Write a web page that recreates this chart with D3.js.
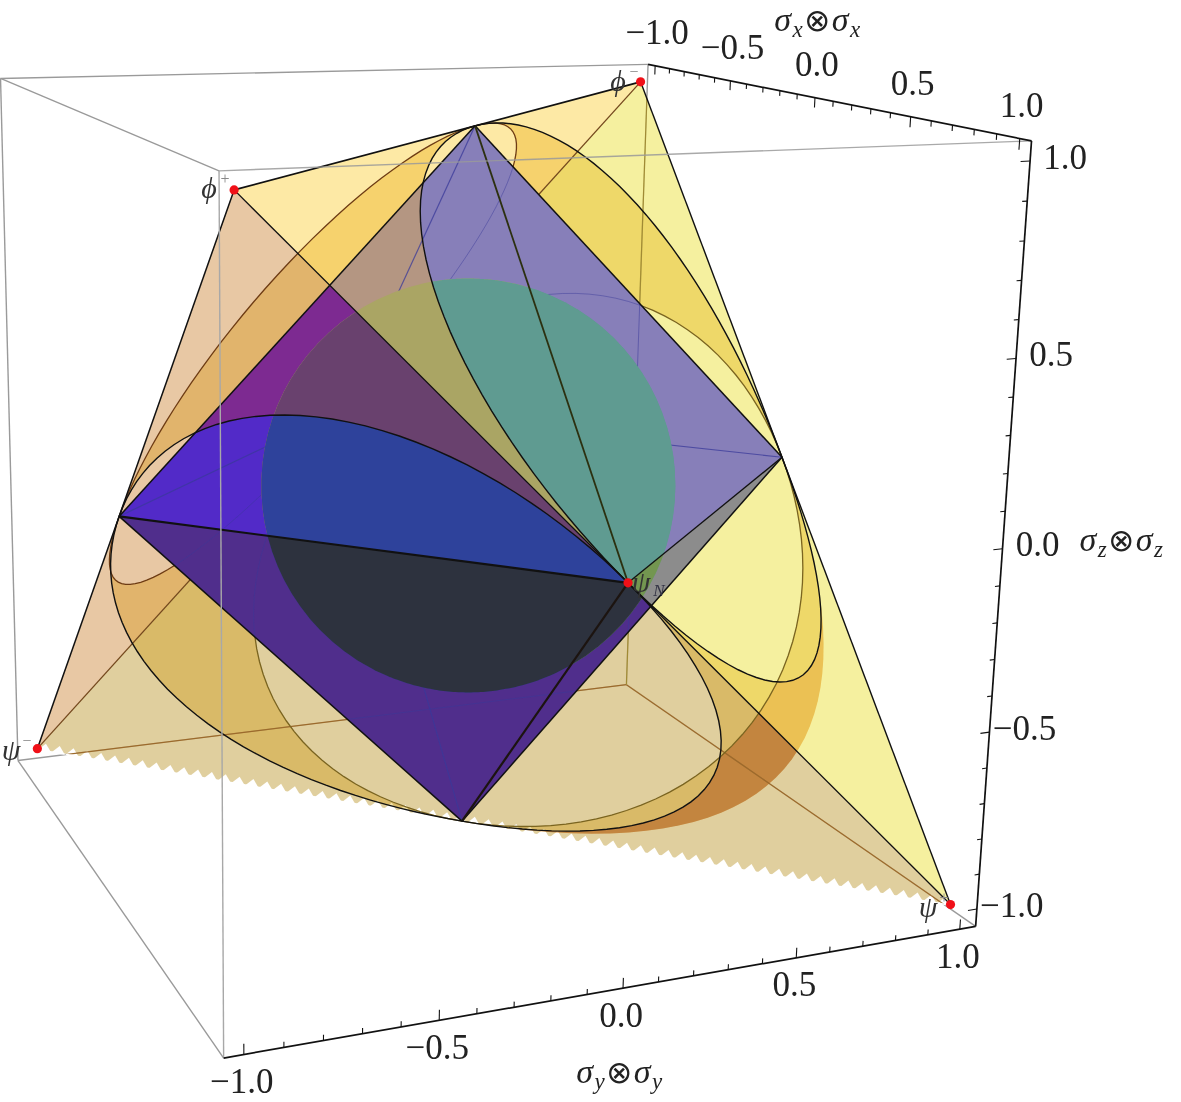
<!DOCTYPE html>
<html><head><meta charset="utf-8">
<style>html,body{margin:0;padding:0;background:#fff}svg{display:block}text{font-family:"Liberation Serif",serif;fill:#222}</style>
<script src="https://cdn.jsdelivr.net/npm/d3@7"></script></head><body><div id="c"></div>
<script>
// ---------- data (state-space coordinates: <xx>, <yy>, <zz>) ----------
const states = {
  phiP:[1,-1,1], phiM:[-1,1,1], psiP:[1,1,-1], psiM:[-1,-1,-1],
  Xp:[1,0,0], Xm:[-1,0,0], Yp:[0,1,0], Ym:[0,-1,0], Zp:[0,0,1], Zm:[0,0,-1]
};
const tetraBack = [["psiM","phiM","psiP"],["phiP","phiM","psiM"]];
const tetraFront = [["phiP","phiM","psiP"],["phiP","psiP","psiM"]];
const markedStates = ["phiP","phiM","psiP","psiM","Xp"];
const sphereRadius = 0.575;
const axisTickLabels = ["-1.0","-0.5","0.0","0.5","1.0"];
const axisTickValues = [-1,-0.5,0,0.5,1];
const boxHalf = 1.05;
const frontWeight = 0.67, backWeight = 0.62, bandWeight = 1.05;
// camera calibration: state -> picture position
const k = boxHalf;
const calibration = [
 [[-k,-k,k],[2,79]],[[-k,k,k],[648,66]],[[k,k,k],[1031,142]],[[k,-k,k],[220,171]],
 [[-k,-k,-k],[19,760]],[[-k,k,-k],[626,683]],[[k,k,-k],[974,925]],[[k,-k,-k],[225,1056]],
 [states.phiP,[231.5,188]],[states.phiM,[640.5,80]],[states.psiP,[952,907]],[states.psiM,[35.5,750.5]],
 [states.Xp,[629,584]],[states.Yp,[783,457]],[states.Ym,[118,517]],[states.Zp,[475,125]],[states.Zm,[462,822]]
];
// ---------- camera fit ----------
function fit(c){
  const n=11,A=d3.range(n).map(()=>new Array(n+1).fill(0));
  const add=(r,b)=>{for(let i=0;i<n;i++){for(let j=0;j<n;j++)A[i][j]+=r[i]*r[j];A[i][n]+=r[i]*b;}};
  c.forEach(([[x,y,z],[u,v]])=>{
    add([x,y,z,1,0,0,0,0,-u*x,-u*y,-u*z],u);
    add([0,0,0,0,x,y,z,1,-v*x,-v*y,-v*z],v);
  });
  for(let i=0;i<n;i++){
    let p=i;for(let r=i+1;r<n;r++)if(Math.abs(A[r][i])>Math.abs(A[p][i]))p=r;
    [A[i],A[p]]=[A[p],A[i]];
    for(let r=0;r<n;r++){if(r===i)continue;const f=A[r][i]/A[i][i];for(let j=i;j<=n;j++)A[r][j]-=f*A[i][j];}
  }
  return d3.range(n).map(i=>A[i][n]/A[i][i]);
}
const P=fit(calibration);
const proj=([x,y,z])=>{const w=P[8]*x+P[9]*y+P[10]*z+1;
  return [(P[0]*x+P[1]*y+P[2]*z+P[3])/w,(P[4]*x+P[5]*y+P[6]*z+P[7])/w];};
const S=n=>states[n];
const mid=(a,b)=>a.map((v,i)=>(v+b[i])/2);
// rational quadratic arc A->B with tangent corner C
function arc3(A,C,B,w){
  return d3.range(0,1.0001,1/40).map(t=>{
    const a=(1-t)*(1-t),b=2*t*(1-t)*w,c=t*t,d=a+b+c;
    return A.map((_,i)=>(a*A[i]+b*C[i]+c*B[i])/d);
  });
}
function discPts(f,W){
  const [a,b,c]=f.map(S);
  const ab=mid(a,b),bc=mid(b,c),ca=mid(c,a);
  return [arc3(ab,b,bc,W[0]),arc3(bc,c,ca,W[1]),arc3(ca,a,ab,W[2])];
}
const line=d3.line().x(d=>d[0]).y(d=>d[1]);
const poly=names=>line(names.map(S).map(proj))+"Z";
const curve=pts=>line(pts.map(proj));
const discPath=(f,w)=>line(discPts(f,w).flat().map(proj))+"Z";

const F1=["phiP","phiM","psiP"],F2=["phiP","psiP","psiM"],F3=["phiP","phiM","psiM"],F4=["phiM","psiP","psiM"];
const FW=[frontWeight,frontWeight,frontWeight],BW=[backWeight,backWeight,backWeight];
const svg=d3.select("#c").append("svg").attr("width",1181).attr("height",1102).style("isolation","isolate");
const defs=svg.append("defs");
const clip=(id,d)=>defs.append("clipPath").attr("id",id).append("path").attr("d",d);
clip("cSquare",poly(["Ym","Zp","Yp","Zm"]));
clip("cTetra",poly(["phiP","phiM","psiP","psiM"]));
clip("cF2",poly(F2));
const spherePts=[];
d3.range(0,180,4).forEach(a=>d3.range(0,360,2).forEach(b=>{
  const t=a*Math.PI/180,u=b*Math.PI/180;
  spherePts.push(proj([sphereRadius*Math.sin(t)*Math.cos(u),sphereRadius*Math.sin(t)*Math.sin(u),sphereRadius*Math.cos(t)]));
}));
const sphereOutline=line(d3.polygonHull(spherePts))+"Z";
clip("cSphere",sphereOutline);
// band mask
const mask=defs.append("mask").attr("id","mBand").attr("maskUnits","userSpaceOnUse").attr("x",0).attr("y",0).attr("width",1181).attr("height",1102);
mask.append("rect").attr("width",1181).attr("height",1102).attr("fill","#fff");
[[F1,FW],[F2,FW],[F4,BW]].forEach(([f,w])=>mask.append("path").attr("d",discPath(f,w)).attr("fill","#000"));

// 1 box back edges
const gray="#9a9a9a";
const seg=(g,a,b,st,w,op)=>g.append("path").attr("d",line([proj(a),proj(b)])).attr("stroke",st).attr("stroke-width",w).attr("fill","none").attr("opacity",op==null?1:op);
const c=(sx,sy,sz)=>[sx*k,sy*k,sz*k];
const backEdges=[[c(-1,-1,1),c(-1,1,1)],[c(-1,-1,1),c(1,-1,1)],[c(-1,-1,1),c(-1,-1,-1)],[c(-1,-1,-1),c(1,-1,-1)],[c(-1,1,1),c(-1,1,-1)],[c(-1,-1,-1),c(-1,1,-1)],[c(-1,1,-1),c(1,1,-1)]];
backEdges.forEach(e=>seg(svg,e[0],e[1],gray,1.4));

// 2 tetra faces
const faceColors=["rgb(215,215,145)","rgb(247,187,169)","rgb(255,245,120)","rgb(213,179,118)"];
tetraBack.concat(tetraFront).forEach((f,i)=>svg.append("path").attr("d",poly(f)).attr("fill",faceColors[i]).attr("fill-opacity",0.5));

// 3 saw-tooth fringe of the lower edge
const pm=proj(S("psiM")),pp=proj(S("psiP"));
const nTeeth=66;
d3.range(nTeeth).forEach(i=>{
  const at=t=>[pm[0]+(pp[0]-pm[0])*t,pm[1]+(pp[1]-pm[1])*t];
  const a=at(i/nTeeth),b=at((i+1)/nTeeth),m=at((i+.62)/nTeeth);
  svg.append("path").attr("d",line([[a[0],a[1]+1.5],[b[0],b[1]+1.5],[m[0],m[1]-6.5]])+"Z").attr("fill","#fff");
});

// 4 tints
svg.append("path").attr("d",[[F1,FW],[F2,FW],[F3,BW],[F4,BW]].map(([f,w])=>discPath(f,w)).join(" ")).attr("fill","rgb(248,230,168)").attr("fill-rule","evenodd").style("mix-blend-mode","multiply");
const bandG=svg.append("g").attr("mask","url(#mBand)").style("mix-blend-mode","multiply");
bandG.append("path").attr("d",discPath(F4,[bandWeight,backWeight,backWeight])).attr("fill","rgb(245,205,135)");
const bandLow=svg.append("g").attr("mask","url(#mBand)").attr("clip-path","url(#cF2)").style("mix-blend-mode","multiply");
bandLow.append("path").attr("d",discPath(F4,[bandWeight,backWeight,backWeight])).attr("fill","rgb(232,205,190)");

// 5 brown hidden lines
const gT=svg.append("g").attr("clip-path","url(#cTetra)");
[[c(-1,-1,-1),c(-1,1,-1),"#9c6a2c"],[c(-1,1,-1),c(1,1,-1),"#9c6a2c"],[c(-1,1,1),c(-1,1,-1),"#a08a34"]].forEach(e=>seg(gT,e[0],e[1],e[2],1.2));
seg(svg,S("phiM"),S("psiM"),"#74491e",1.3);
[[F3,"#6e3c14"],[F4,"#7a6420"]].forEach(([f,col])=>discPts(f,BW).forEach(a=>svg.append("path").attr("d",curve(a)).attr("fill","none").attr("stroke",col).attr("stroke-width",1.3)));

// 6 octahedron regions
const octaColors={a:"rgb(135,127,185)",b:"rgb(180,150,130)",c:"rgb(125,42,145)",d:"rgb(82,42,200)",e:"rgb(80,46,140)",f:"rgb(140,140,140)"};
const sphereColors={a:"rgb(95,155,145)",b:"rgb(170,165,100)",c:"rgb(105,65,110)",d:"rgb(46,66,155)",e:"rgb(45,50,62)",f:"rgb(115,150,80)"};
function paintOcta(g,col){
  const p=(d,fc)=>g.append("path").attr("d",d).attr("fill",fc);
  p(poly(["Xp","Ym","Zp"]),col.b);
  p(poly(["phiP","Ym","Xp"]),col.c);
  p(discPath(F2,FW),col.d);
  p(discPath(F1,FW),col.a);
  p(poly(["Xp","Zp","Yp"]),col.a);
  p(poly(["Xp","Yp","Zm"]),col.f);
  p(poly(["Xp","psiP","Zm"]),col.e);
  p(poly(["Xp","Ym","Zm"]),col.e);
}
const gSq=svg.append("g").attr("clip-path","url(#cSquare)");
paintOcta(gSq,octaColors);

// 7 faint lines seen through the octahedron
const faint="#3a3a9a";
["Ym","Zp","Yp","Zm"].forEach(n=>seg(gSq,S("Xm"),S(n),faint,1.2,.75));
[F3,F4].forEach(f=>discPts(f,BW).forEach(a=>gSq.append("path").attr("d",curve(a)).attr("fill","none").attr("stroke",faint).attr("stroke-width",1).attr("opacity",.45)));
[[c(-1,-1,-1),c(-1,1,-1)],[c(-1,1,-1),c(1,1,-1)],[c(-1,1,1),c(-1,1,-1)]].forEach(e=>seg(gSq,e[0],e[1],faint,1,.5));

// 8 sphere
const gSp=gSq.append("g").attr("clip-path","url(#cSphere)");
paintOcta(gSp,sphereColors);

// 9 front lines
const black="#111";
[["phiP","phiM",1.8,black],["phiM","psiP",1.4,black],["phiP","psiM",1.5,black],["phiP","psiP",1.3,black],
 ["Ym","Zp",1.5,black],["Zp","Yp",1.5,black],["Yp","Zm",1.5,black],["Zm","Ym",1.5,black],
 ["Ym","Xp",2.2,black],["Zp","Xp",1.8,"#2c3010"],["Yp","Xp",1.3,black],["Zm","Xp",2.2,"#1c1410"]].forEach(([a,b,w,col])=>seg(svg,S(a),S(b),col,w));
[F1,F2].forEach(f=>discPts(f,FW).forEach(a=>svg.append("path").attr("d",curve(a)).attr("fill","none").attr("stroke",black).attr("stroke-width",1.4)));

// front box edges
seg(svg,c(1,-1,1),c(1,1,1),gray,1.4,.85);
seg(svg,c(1,-1,1),c(1,-1,-1),"#a8a8a8",1.4);
// axes
const axes=[
 {a:c(-1,1,1),b:c(1,1,1),at:v=>[v,k,k],dir:[0,0,-1],off:[2,-33]},
 {a:c(1,1,1),b:c(1,1,-1),at:v=>[k,k,v],dir:[0,-1,0],off:[35,-4]},
 {a:c(1,-1,-1),b:c(1,1,-1),at:v=>[k,v,-k],dir:[0,0,1],off:[-2,27]}
];
const tickScale=d3.scaleLinear().domain([-1,1]);
const fmt=l=>l.replace("-","\u2212");
axes.forEach(ax=>{
  seg(svg,ax.a,ax.b,black,1.7);
  tickScale.ticks(20).forEach(v=>{
    const major=axisTickValues.some(m=>Math.abs(m-v)<1e-6);
    const base=ax.at(v),len=major?0.028:0.015;
    seg(svg,base,base.map((q,i)=>q+ax.dir[i]*len),black,1.1);
  });
  axisTickValues.forEach((v,i)=>{
    const p=proj(ax.at(v));
    svg.append("text").attr("x",p[0]+ax.off[0]).attr("y",p[1]+ax.off[1]).attr("text-anchor","middle").attr("dominant-baseline","central")
      .attr("font-size",35).text(fmt(axisTickLabels[i]));
  });
});
// axis titles
function pauli(x,y,sub){
  const t=svg.append("text").attr("x",x).attr("y",y).attr("text-anchor","middle").attr("font-size",34).attr("letter-spacing",1.5);
  t.append("tspan").attr("font-style","italic").text("\u03c3");
  t.append("tspan").attr("font-style","italic").attr("font-size",23).attr("dy",6).text(sub);
  t.append("tspan").attr("dy",-6).attr("font-size",31).attr("font-family","DejaVu Sans").text("\u2297");
  t.append("tspan").attr("font-style","italic").text("\u03c3");
  t.append("tspan").attr("font-style","italic").attr("font-size",23).attr("dy",6).text(sub);
}
pauli(818,31,"x");pauli(1122,551,"z");pauli(620,1083,"y");

// state markers
markedStates.forEach(n=>{const p=proj(S(n));svg.append("circle").attr("cx",p[0]).attr("cy",p[1]).attr("r",4.6).attr("fill","#f01018");});
function stateLabel(x,y,g,sup,subN){
  svg.append("text").attr("x",x).attr("y",y).attr("font-size",30).attr("font-style","italic").attr("text-anchor","middle").style("fill","#333").text(g);
  if(sup)svg.append("text").attr("x",x+16).attr("y",y-14).attr("font-size",16).attr("text-anchor","middle").style("fill","#888").text(sup);
  if(subN)svg.append("text").attr("x",x+18).attr("y",y+4).attr("font-size",17).attr("font-style","italic").attr("text-anchor","middle").style("fill","#334").text(subN);
}
stateLabel(209,198,"\u03d5","+");
stateLabel(618,91,"\u03d5","\u2212");
stateLabel(11,760,"\u03c8","\u2212");
stateLabel(928,917,"\u03c8","+");
stateLabel(641,592,"\u03c8",null,"N");
</script></body></html>
